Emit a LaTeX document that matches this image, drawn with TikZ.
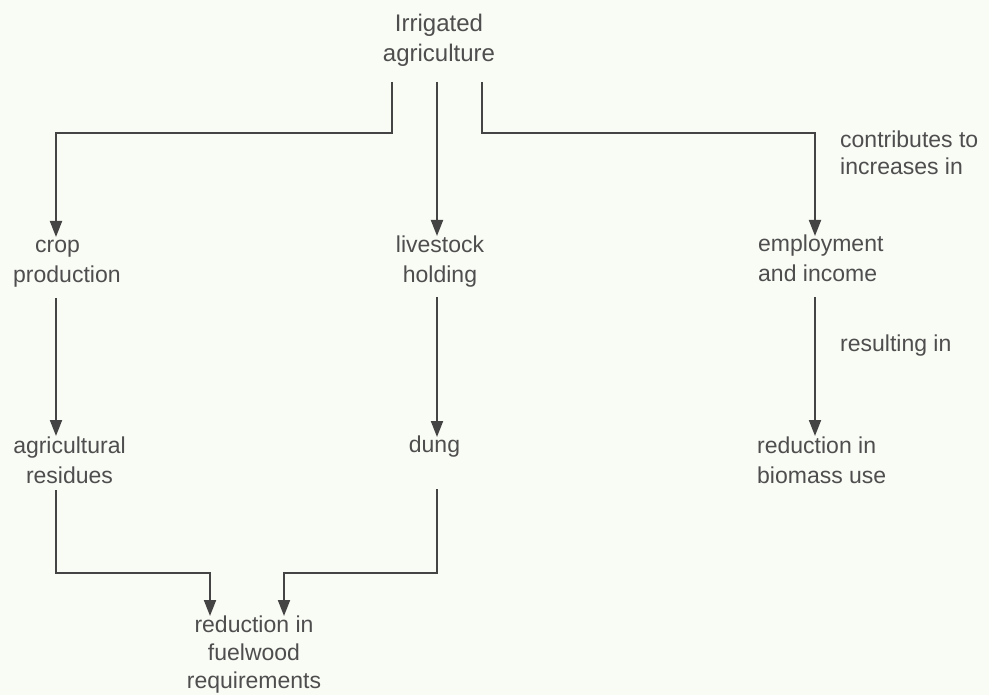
\documentclass[tikz,border=0pt]{standalone}
\usepackage{fontspec}
\setmainfont{Liberation Sans}
\usetikzlibrary{arrows.meta}
\definecolor{bg}{RGB}{249,251,245}
\definecolor{ink}{RGB}{68,68,68}
\definecolor{txt}{RGB}{78,78,78}
\newcommand{\mycl}[1]{\begin{tabular}[t]{@{}c@{}}#1\end{tabular}}
\newcommand{\myll}[1]{\begin{tabular}[t]{@{}l@{}}#1\end{tabular}}
\begin{document}
\begin{tikzpicture}[x=1pt,y=-1pt,
  lbl/.style={inner sep=0pt,anchor=base,text=txt,font=\fontsize{23}{30}\selectfont},
  lbll/.style={lbl,anchor=base west},
  conn/.style={draw=ink,line width=1.9pt},
  arr/.style={conn,-{Triangle[length=16pt,width=12pt]}}]
\fill[bg] (0,0) rectangle (989,695);
\useasboundingbox (0,0) rectangle (989,695);
% labels
\node[lbl,font=\fontsize{24}{30}\selectfont] (top) at (439,32) {\mycl{Irrigated\\agriculture}};
\node[lbll] (crop) at (13,253) {\myll{\hspace*{22pt}crop\\production}};
\node[lbl] (live) at (440,253) {\mycl{livestock\\holding}};
\node[lbll] (empl) at (758,252) {\myll{employment\\and income}};
\node[lbl] (agri) at (69.5,453) {\mycl{agricultural\\residues}};
\node[lbl] (dung) at (434.5,452) {dung};
\node[lbll] (bio) at (757,453) {\myll{reduction in\\biomass use}};
\node[lbl,font=\fontsize{23}{28}\selectfont] (fuel) at (254,632) {\mycl{reduction in\\fuelwood\\requirements}};
\node[lbll,font=\fontsize{23}{27}\selectfont] (contrib) at (840,148) {\myll{contributes to\\increases in}};
\node[lbll] (result) at (840,352) {resulting in};
% connector end points
\coordinate (t1) at (392,82);
\coordinate (t2) at (437,82);
\coordinate (t3) at (482,82);
\coordinate (cropin) at (56,237);
\coordinate (livein) at (437,236);
\coordinate (emplin) at (815,236);
\coordinate (cropout) at (56,298);
\coordinate (liveout) at (437,297);
\coordinate (emplout) at (815,297);
\coordinate (agriin) at (56,436);
\coordinate (dungin) at (437,437);
\coordinate (bioin) at (815,436);
\coordinate (agriout) at (56,490);
\coordinate (dungout) at (437,489);
\coordinate (fuelinA) at (210,616);
\coordinate (fuelinB) at (284,616);
% connectors
\draw[arr] (t1) -- (392,133) -| (cropin);
\draw[arr] (t2) -- (livein);
\draw[arr] (t3) -- (482,133) -| (emplin);
\draw[arr] (cropout) -- (agriin);
\draw[arr] (liveout) -- (dungin);
\draw[arr] (emplout) -- (bioin);
\draw[arr] (agriout) -- (56,573) -| (fuelinA);
\draw[arr] (dungout) -- (437,573) -| (fuelinB);
\end{tikzpicture}
\end{document}
